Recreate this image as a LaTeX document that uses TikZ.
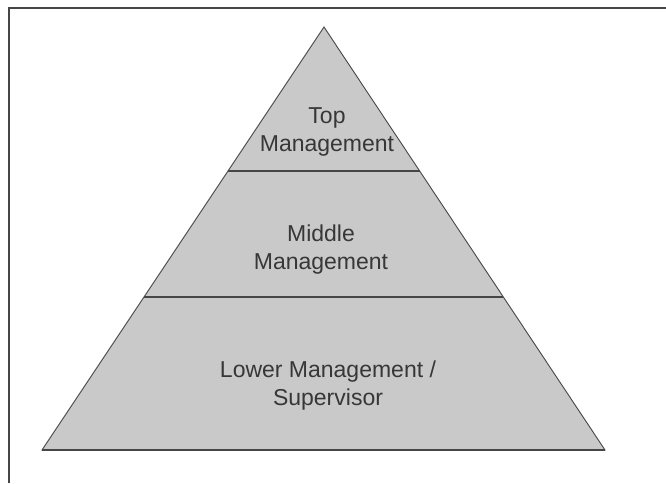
\documentclass[tikz,border=0pt]{standalone}
\usepackage{fontspec}
\setmainfont{Liberation Sans}
\usetikzlibrary{calc}
\definecolor{pyrfill}{RGB}{201,201,201}
\definecolor{pyrline}{RGB}{70,70,70}
\definecolor{pyrtext}{RGB}{55,55,55}
\begin{document}
\begin{tikzpicture}[x=1pt, y=-1pt, level/.style = {text=pyrtext, align=center, font=\fontsize{23}{28}\selectfont}, divider/.style = {draw=pyrline, line width=1.8pt}] 
\useasboundingbox (0,0) rectangle (666,483);
\coordinate (apex) at (324,27);
\coordinate (bl) at (42,450);
\coordinate (br) at (605,450);
\coordinate (tl) at ($(apex)!0.34!(bl)$);
\coordinate (tr) at ($(apex)!0.34!(br)$);
\coordinate (ml) at ($(apex)!0.638!(bl)$);
\coordinate (mr) at ($(apex)!0.638!(br)$);
\draw[-, draw=pyrline, line width=0.9pt, fill=pyrfill] (apex) -- (br) -- (bl) -- cycle;
\draw[-, draw=pyrline, line width=1.6pt] (bl) -- (br);
\draw[divider] (tl) -- (tr);
\draw[divider] (ml) -- (mr);
\node[level] (top) at (327,132) {Top\\Management};
\node[level] (middle) at (321,250) {Middle\\Management};
\node[level] (lower) at (328,386) {Lower Management /\\Supervisor};
\coordinate (frametl) at (9,8);
\coordinate (frametr) at (666,8);
\coordinate (framebl) at (9,483);
\draw[-, draw=pyrline, line width=1.8pt] (framebl) -- (frametl) -- (frametr);
\end{tikzpicture}
\end{document}
